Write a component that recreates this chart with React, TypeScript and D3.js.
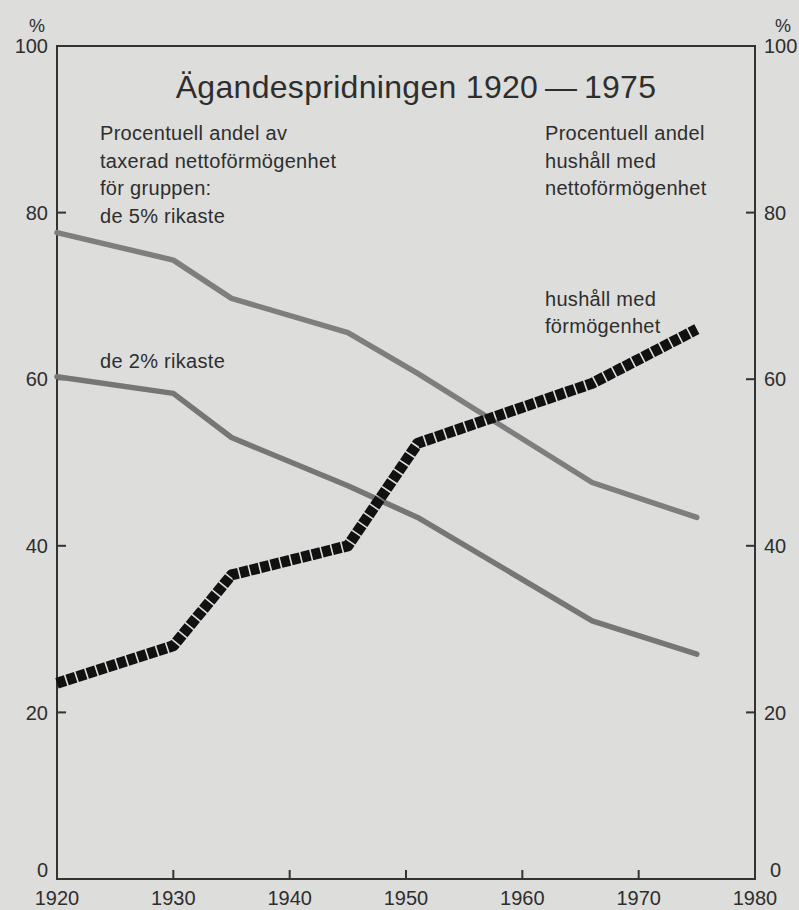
import * as d3 from "d3";

const years = [1920, 1930, 1935, 1945, 1951, 1966, 1975];
const rich5 = [77.6, 74.3, 69.7, 65.6, 60.7, 47.6, 43.4];
const rich2 = [60.3, 58.3, 53.0, 47.2, 43.4, 31.0, 27.0];
const households = [23.5, 28.0, 36.5, 40.0, 52.3, 59.5, 66.0];

const xTicks = [1920, 1930, 1940, 1950, 1960, 1970, 1980];
const yTicks = [0, 20, 40, 60, 80, 100];

const title = "Ägandespridningen 1920\u2009—\u20091975";
const leftNote = ["Procentuell andel av", "taxerad nettoförmögenhet", "för gruppen:", "de 5% rikaste"];
const rightNote = ["Procentuell andel", "hushåll med", "nettoförmögenhet"];

const W = 799;
const H = 910;
const font = "'Liberation Sans', Arial, sans-serif";
const ink = "#2e2e2e";

export default function App() {
  const x = d3.scaleLinear().domain([1920, 1980]).range([57, 755]);
  const y = d3.scaleLinear().domain([0, 100]).range([879, 46]);

  const line = d3
    .line<number>()
    .x((_, i) => x(years[i]))
    .y((d) => y(d))
    .curve(d3.curveLinear);

  const [x0, x1] = x.range();
  const [y0, y1] = y.range();

  return (
    <svg
      width={W}
      height={H}
      style={{ position: "absolute", left: 0, top: 0, background: "#dddddb" }}
      fontFamily={font}
    >
      <rect width={W} height={H} fill="#dddddb" />

      {/* frame */}
      <rect x={x0} y={y1} width={x1 - x0} height={y0 - y1} fill="none" stroke="#333" strokeWidth={2} />

      {/* y ticks, both sides */}
      {yTicks.slice(1, -1).map((t) => (
        <g key={"yt" + t}>
          <line x1={x0} x2={x0 + 9} y1={y(t)} y2={y(t)} stroke="#333" strokeWidth={2} />
          <line x1={x1 - 9} x2={x1} y1={y(t)} y2={y(t)} stroke="#333" strokeWidth={2} />
        </g>
      ))}
      {yTicks.map((t) => (
        <g key={"yl" + t} fontSize={20} fill={ink}>
          <text x={x0 - 9} y={y(t) + (t === 0 ? -7 : 2)} textAnchor="end" dominantBaseline="middle">
            {t}
          </text>
          <text x={x1 + (t === 0 ? 15 : 9)} y={y(t) + (t === 0 ? -7 : 2)} dominantBaseline="middle">
            {t}
          </text>
        </g>
      ))}
      <text x={37} y={27} fontSize={18} fill={ink} textAnchor="middle" dominantBaseline="middle">%</text>
      <text x={783} y={27} fontSize={18} fill={ink} textAnchor="middle" dominantBaseline="middle">%</text>

      {/* x ticks */}
      {xTicks.slice(1, -1).map((t) => (
        <line key={"xt" + t} x1={x(t)} x2={x(t)} y1={y0} y2={y0 - 9} stroke="#333" strokeWidth={2} />
      ))}
      {xTicks.map((t) => (
        <text key={"xl" + t} x={x(t)} y={y0 + 21} fontSize={20} fill={ink} textAnchor="middle" dominantBaseline="middle">
          {t}
        </text>
      ))}

      {/* series */}
      <path d={line(rich5) ?? ""} fill="none" stroke="#7e7e7e" strokeWidth={5.5} strokeLinejoin="round" strokeLinecap="round" />
      <path d={line(rich2) ?? ""} fill="none" stroke="#767676" strokeWidth={5.5} strokeLinejoin="round" strokeLinecap="round" />
      <path
        d={line(households) ?? ""}
        fill="none"
        stroke="#111"
        strokeWidth={11}
        strokeDasharray="9,1.6"
        strokeLinejoin="round"
      />

      {/* title & notes */}
      <text x={416} y={98} fontSize={32} fill={ink} textAnchor="middle" letterSpacing={0.3}>
        {title}
      </text>
      {leftNote.map((s, i) => (
        <text key={"ln" + i} x={100} y={140 + i * 27.5} fontSize={20} fill={ink} letterSpacing={0.3}>
          {s}
        </text>
      ))}
      {rightNote.map((s, i) => (
        <text key={"rn" + i} x={545} y={140 + i * 27.5} fontSize={20} fill={ink} letterSpacing={0.3}>
          {s}
        </text>
      ))}
      <text x={545} y={306} fontSize={20} fill={ink} letterSpacing={0.3}>hushåll med</text>
      <text x={545} y={333} fontSize={20} fill={ink} letterSpacing={0.3}>förmögenhet</text>
      <text x={100} y={368} fontSize={20} fill={ink} letterSpacing={0.3}>de 2% rikaste</text>
    </svg>
  );
}
